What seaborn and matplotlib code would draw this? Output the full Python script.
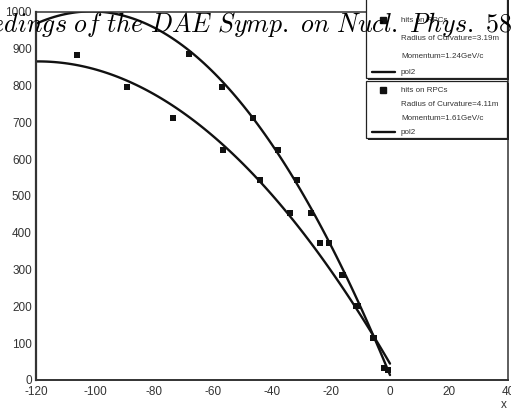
import matplotlib
matplotlib.use("Agg")
import matplotlib.pyplot as plt
from matplotlib import font_manager
from matplotlib.patches import Rectangle
from matplotlib.lines import Line2D
from matplotlib.ticker import MultipleLocator
import seaborn as sns
import pandas as pd

# ---- data ----
# hits of track 1 (R = 3.19 m) and track 2 (R = 4.11 m)
upper_x = [-68.0, -56.8, -46.3, -37.9, -31.5, -26.7, -20.6, -15.8, -10.7, -5.4, -0.8]
upper_y = [885, 797, 713, 625, 543, 455, 373, 285, 200, 115, 28]
lower_x = [-106.2, -89.2, -73.7, -56.7, -43.9, -33.8, -23.7, -16.3, -11.6, -5.9, -2.1]
lower_y = [883, 797, 713, 625, 543, 455, 373, 285, 200, 115, 33]
# samples of the drawn pol2 curve of track 1
upper_fit_x = [-89.8, -68.0, -56.8, -46.3, -38.1, -31.3, -26.9, -20.4, -15.6, -10.5, -5.4, 0.3]
upper_fit_y = [992, 891, 799, 715, 625, 543, 462, 375, 285, 201, 114, 14]

legend1 = ["hits on RPCs", "Radius of Curvature=3.19m", "Momentum=1.24GeV/c", "pol2"]
legend2 = ["hits on RPCs", "Radius of Curvature=4.11m", "Momentum=1.61GeV/c", "pol2"]
x_ticks = [-120, -100, -80, -60, -40, -20, 0, 20, 40]
y_ticks = [0, 100, 200, 300, 400, 500, 600, 700, 800, 900, 1000]
header = "Proceedings of the DAE Symp. on Nucl. Phys. 58"

sns.set_style("white")
plt.rcParams["font.family"] = ["Liberation Sans", "DejaVu Sans"]
plt.rcParams["axes.unicode_minus"] = False
plt.rcParams["mathtext.fontset"] = "cm"

names = {f.name for f in font_manager.fontManager.ttflist}
narrow = "Liberation Sans Narrow" in names
leg_font = ["Liberation Sans Narrow", "Liberation Sans"] if narrow else ["Liberation Sans"]
leg_size = 7.0 if narrow else 5.8

W, H = 511, 412
fig = plt.figure(figsize=(W / 100, H / 100), dpi=100)
ax = fig.add_axes([36 / W, 1 - 380 / H, (508 - 36) / W, (380 - 12) / H])

df_u = pd.DataFrame({"x": upper_x, "y": upper_y})
df_l = pd.DataFrame({"x": lower_x, "y": lower_y})
df_uf = pd.DataFrame({"x": upper_fit_x, "y": upper_fit_y})

ink = "#111111"
ax.set_xlim(-120, 0)
for fit_df, pts_df in ((df_uf, df_u), (df_l, df_l)):
    sns.regplot(data=fit_df, x="x", y="y", order=2, ci=None, scatter=False,
                truncate=False, ax=ax, line_kws=dict(color=ink, lw=1.7))
    sns.scatterplot(data=pts_df, x="x", y="y", marker="s", s=22, color=ink,
                    linewidth=0, ax=ax, zorder=5)

ax.set_xlim(-120, 40)
ax.set_ylim(0, 1000)
ax.set_xlabel("")
ax.set_ylabel("")
ax.set_xticks(x_ticks)
ax.set_yticks(y_ticks)
ax.set_xticklabels([str(t) for t in x_ticks])
ax.set_yticklabels([str(t) for t in y_ticks])
ax.xaxis.set_minor_locator(MultipleLocator(5))
ax.yaxis.set_minor_locator(MultipleLocator(20))
ax.tick_params(axis="x", which="major", direction="in", length=7, width=1.0,
               colors="#333333", labelsize=8.5, pad=4, top=False)
ax.tick_params(axis="x", which="minor", direction="in", length=3.5, width=0.9,
               colors="#333333", top=False)
ax.tick_params(axis="y", which="major", direction="in", length=12, width=1.1,
               colors="#333333", labelsize=8.5, pad=3, right=False)
ax.tick_params(axis="y", which="minor", direction="in", length=6, width=0.9,
               colors="#333333", right=False)
for s in ax.spines.values():
    s.set_color("#333333")
    s.set_linewidth(1.1)
ax.spines["left"].set_linewidth(1.6)
ax.spines["bottom"].set_linewidth(1.4)

def fx(x):
    return x / W

def fy(y):
    return 1 - y / H

def legend_box(top, bottom, rows, labels):
    x0, x1 = 366, 507
    fig.add_artist(Rectangle((fx(x0 + 2), fy(bottom + 2)), fx(x1 - x0), (bottom - top) / H,
                             transform=fig.transFigure, facecolor="#222222",
                             edgecolor="none", zorder=8))
    fig.add_artist(Rectangle((fx(x0), fy(bottom)), fx(x1 - x0), (bottom - top) / H,
                             transform=fig.transFigure, facecolor="white",
                             edgecolor="#222222", linewidth=0.9, zorder=9))
    fig.add_artist(Line2D([fx(383)], [fy(rows[0])], marker="s", markersize=4,
                          color=ink, linestyle="none", transform=fig.transFigure, zorder=10))
    fig.add_artist(Line2D([fx(372), fx(395)], [fy(rows[3]), fy(rows[3])], color=ink,
                          lw=1.7, transform=fig.transFigure, zorder=10))
    for r, lab in zip(rows, labels):
        fig.text(fx(401), fy(r), lab, fontsize=leg_size, family=leg_font,
                 color="#333333", va="center", ha="left", zorder=10)

legend_box(-4, 78, [20, 39, 57, 72], legend1)
legend_box(81, 138, [90, 104, 118, 132], legend2)

fig.text(fx(507), fy(405), "x", fontsize=8.5, color="#333333", ha="right", va="center")

fig.text(fx(512), fy(32), r"$\mathit{" + header.replace(" ", r"\ ") + "}$",
         fontsize=18.6, color="black", ha="right", va="baseline", zorder=20)

fig.savefig("out.png", dpi=100)
